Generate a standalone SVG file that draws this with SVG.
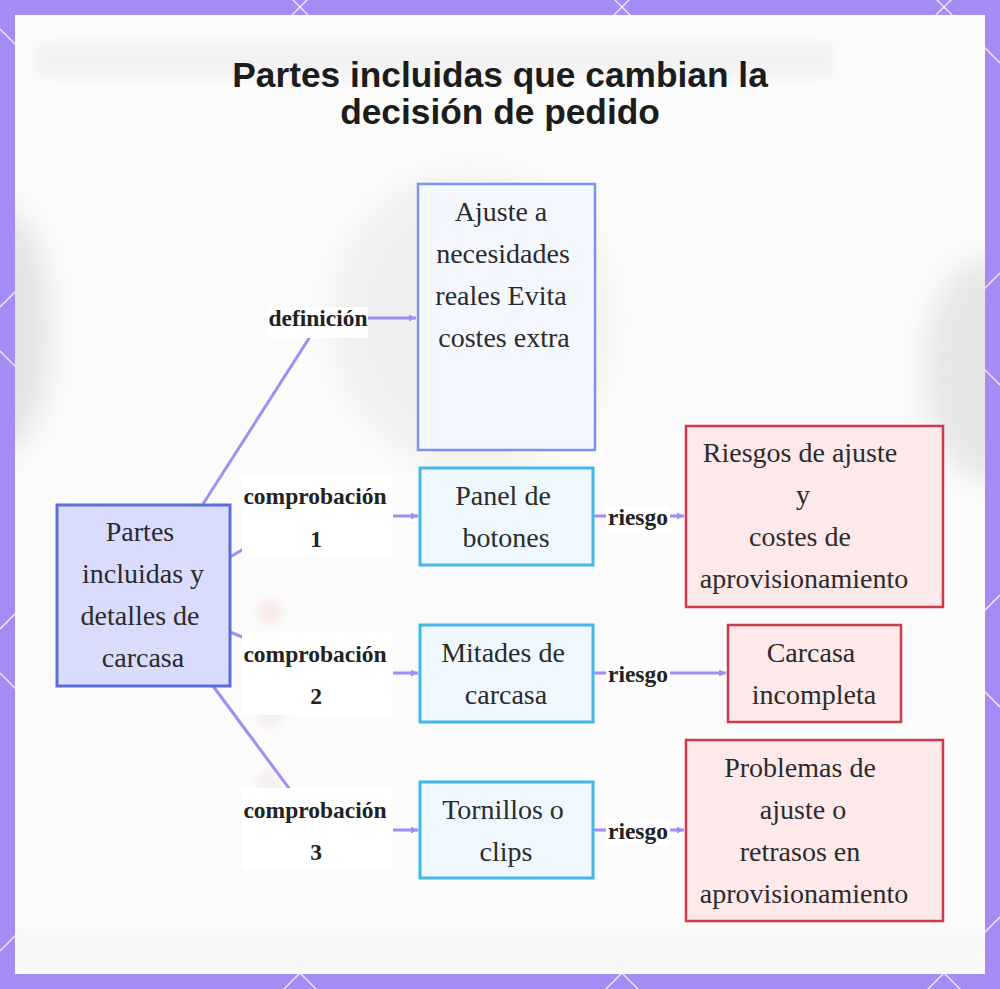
<svg xmlns="http://www.w3.org/2000/svg" width="1000" height="989" viewBox="0 0 1000 989">
<defs>
<style>
.nt{font-family:"Liberation Serif","Times New Roman",serif;font-size:28px;fill:#2b2b2b;text-anchor:middle}
.el{font-family:"Liberation Serif","Times New Roman",serif;font-size:23.5px;font-weight:bold;fill:#222;text-anchor:middle}
.ttl{font-family:"Liberation Sans",Arial,sans-serif;font-size:35.3px;font-weight:bold;fill:#1c1c1c;text-anchor:middle}
.edge{fill:none;stroke:#a48cf2;stroke-width:3}
.lbg{fill:#ffffff}
.lat{stroke:#ffffff;stroke-width:1.3;opacity:0.85}
.central{fill:#d9dcfc;stroke:#5b6fd6;stroke-width:3}
.def{fill:#f5f7fe;stroke:#7c92ef;stroke-width:2.5}
.part{fill:#eef8fe;stroke:#45b8e6;stroke-width:3}
.risk{fill:#fde8ea;stroke:#d0384c;stroke-width:2.5}
</style>
<marker id="ah" viewBox="0 0 10 10" refX="10" refY="5" markerUnits="userSpaceOnUse" markerWidth="9" markerHeight="7" orient="auto">
<path d="M0,0 L10,5 L0,10 z" fill="#a48cf2"/>
</marker>
<filter id="bl" x="-50%" y="-50%" width="200%" height="200%"><feGaussianBlur stdDeviation="14"/></filter>
<filter id="bs" x="-50%" y="-50%" width="200%" height="200%"><feGaussianBlur stdDeviation="6"/></filter>
<clipPath id="panel"><rect x="15" y="15" width="970" height="959"/></clipPath>
</defs>

<!-- frame -->
<rect x="0" y="0" width="1000" height="989" fill="#a48cf4"/>
<g id="lattice">
<line class="lat" x1="0" y1="-937" x2="1000" y2="63"/>
<line class="lat" x1="0" y1="-615" x2="1000" y2="385"/>
<line class="lat" x1="0" y1="-293" x2="1000" y2="707"/>
<line class="lat" x1="0" y1="29" x2="1000" y2="1029"/>
<line class="lat" x1="0" y1="351" x2="1000" y2="1351"/>
<line class="lat" x1="0" y1="673" x2="1000" y2="1673"/>
<line class="lat" x1="0" y1="-15" x2="1000" y2="-1015"/>
<line class="lat" x1="0" y1="307" x2="1000" y2="-693"/>
<line class="lat" x1="0" y1="629" x2="1000" y2="-371"/>
<line class="lat" x1="0" y1="951" x2="1000" y2="-49"/>
<line class="lat" x1="0" y1="1273" x2="1000" y2="273"/>
<line class="lat" x1="0" y1="1595" x2="1000" y2="595"/>
<line class="lat" x1="0" y1="1917" x2="1000" y2="917"/>
</g>

<!-- panel with blurred backdrop -->
<rect x="15" y="15" width="970" height="959" fill="#fbfbfb"/>
<g id="backdrop" clip-path="url(#panel)">
<rect x="35" y="42" width="800" height="36" rx="12" fill="#000" opacity="0.03" filter="url(#bs)"/>
<ellipse cx="5" cy="330" rx="45" ry="120" fill="#888" opacity="0.2" filter="url(#bl)"/>
<ellipse cx="470" cy="320" rx="140" ry="150" fill="#999" opacity="0.1" filter="url(#bl)"/>
<ellipse cx="985" cy="370" rx="60" ry="110" fill="#888" opacity="0.18" filter="url(#bl)"/>
<rect x="20" y="930" width="960" height="40" fill="#000" opacity="0.015" filter="url(#bs)"/>
<ellipse cx="270" cy="612" rx="12" ry="12" fill="#e04040" opacity="0.1" filter="url(#bs)"/>
<ellipse cx="270" cy="715" rx="12" ry="12" fill="#e04040" opacity="0.08" filter="url(#bs)"/>
<ellipse cx="270" cy="782" rx="12" ry="12" fill="#e04040" opacity="0.08" filter="url(#bs)"/>
</g>

<!-- title -->
<g id="title">
<text class="ttl" x="500" y="87">Partes incluidas que cambian la</text>
<text class="ttl" x="500" y="124">decisión de pedido</text>
</g>

<!-- connectors -->
<g id="connectors">
<path class="edge" d="M203,504 L322,318 L416,318" marker-end="url(#ah)"/>
<path class="edge" d="M230,557 L300,516 L418,516" marker-end="url(#ah)"/>
<path class="edge" d="M230,632 L330,673 L418,673" marker-end="url(#ah)"/>
<path class="edge" d="M213,686 L320,830 L418,830" marker-end="url(#ah)"/>
<path class="edge" d="M593,516 L684,516" marker-end="url(#ah)"/>
<path class="edge" d="M593,673 L726,673" marker-end="url(#ah)"/>
<path class="edge" d="M593,830 L684,830" marker-end="url(#ah)"/>
<rect class="lbg" x="268" y="307" width="100" height="31"/>
<text class="el" x="318" y="326">definición</text>
<rect class="lbg" x="242" y="475" width="151" height="82"/>
<text class="el" x="315" y="504">comprobación</text>
<text class="el" x="316" y="547">1</text>
<rect class="lbg" x="242" y="632" width="151" height="83"/>
<text class="el" x="315" y="662">comprobación</text>
<text class="el" x="316" y="704">2</text>
<rect class="lbg" x="242" y="788" width="151" height="82"/>
<text class="el" x="315" y="818">comprobación</text>
<text class="el" x="316" y="860">3</text>
<rect class="lbg" x="606" y="506" width="64" height="26"/>
<text class="el" x="638" y="525">riesgo</text>
<rect class="lbg" x="606" y="663" width="64" height="26"/>
<text class="el" x="638" y="682">riesgo</text>
<rect class="lbg" x="606" y="820" width="64" height="26"/>
<text class="el" x="638" y="839">riesgo</text>
</g>

<!-- nodes -->
<g id="n-central">
<rect class="central" x="57" y="505" width="173" height="181"/>
<text class="nt" x="140" y="541">Partes</text>
<text class="nt" x="143" y="583">incluidas y</text>
<text class="nt" x="140" y="625">detalles de</text>
<text class="nt" x="143" y="667">carcasa</text>
</g>
<g id="n-ajuste">
<rect class="def" x="418" y="184" width="177" height="266"/>
<text class="nt" x="501" y="221">Ajuste a</text>
<text class="nt" x="503" y="263">necesidades</text>
<text class="nt" x="501" y="305">reales Evita</text>
<text class="nt" x="504" y="347">costes extra</text>
</g>
<g id="n-panel">
<rect class="part" x="420" y="468" width="173" height="97"/>
<text class="nt" x="503" y="505">Panel de</text>
<text class="nt" x="506" y="547">botones</text>
</g>
<g id="n-mitades">
<rect class="part" x="420" y="625" width="173" height="97"/>
<text class="nt" x="503" y="662">Mitades de</text>
<text class="nt" x="506" y="704">carcasa</text>
</g>
<g id="n-tornillos">
<rect class="part" x="420" y="782" width="173" height="96"/>
<text class="nt" x="503" y="819">Tornillos o</text>
<text class="nt" x="506" y="861">clips</text>
</g>
<g id="n-riesgos">
<rect class="risk" x="686" y="426" width="257" height="181"/>
<text class="nt" x="800" y="462">Riesgos de ajuste</text>
<text class="nt" x="803" y="504">y</text>
<text class="nt" x="800" y="546">costes de</text>
<text class="nt" x="804" y="588">aprovisionamiento</text>
</g>
<g id="n-incompleta">
<rect class="risk" x="728" y="625" width="173" height="97"/>
<text class="nt" x="811" y="662">Carcasa</text>
<text class="nt" x="814" y="704">incompleta</text>
</g>
<g id="n-problemas">
<rect class="risk" x="686" y="740" width="257" height="181"/>
<text class="nt" x="800" y="777">Problemas de</text>
<text class="nt" x="803" y="819">ajuste o</text>
<text class="nt" x="800" y="861">retrasos en</text>
<text class="nt" x="804" y="903">aprovisionamiento</text>
</g>
</svg>
